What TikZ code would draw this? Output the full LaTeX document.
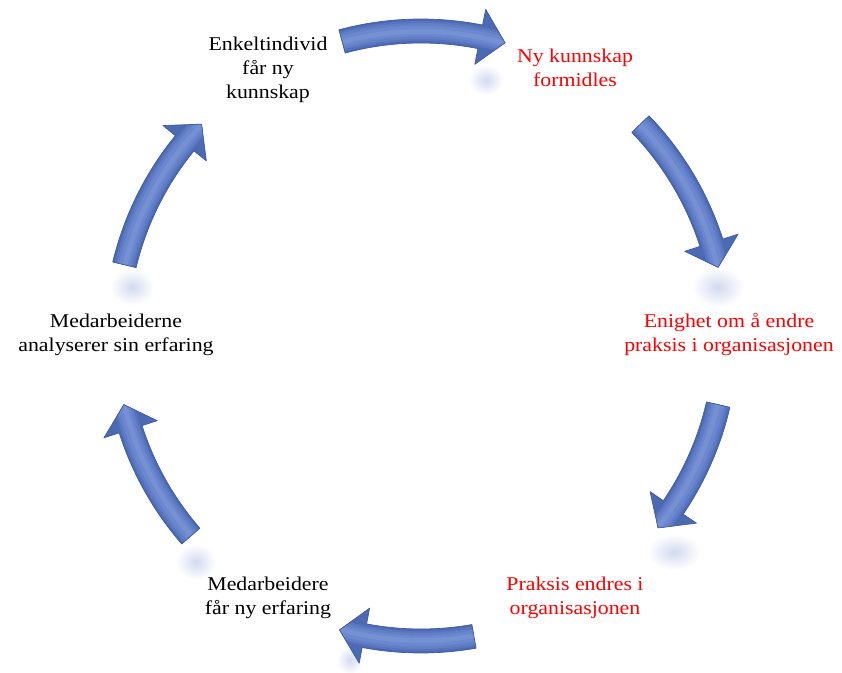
\documentclass[tikz,border=0pt]{standalone}
\usepackage{fontspec}
\setmainfont[FakeStretch=1.12]{Liberation Serif}
\definecolor{arrdark}{HTML}{3E5AA0}
\definecolor{arrA}{HTML}{4C6AB4}
\definecolor{arrB}{HTML}{5774BE}
\definecolor{arrC}{HTML}{617EC7}
\definecolor{arrD}{HTML}{6B87CD}
\definecolor{arrE}{HTML}{7590D3}
\definecolor{refl}{HTML}{D3DAF0}
\definecolor{txtred}{HTML}{FF0000}
\tikzset{
  lbl/.style={align=center, font=\fontsize{19.5}{24}\selectfont, inner sep=0pt},
  redlbl/.style={lbl, text=txtred},
  reflbox/.style={inner color=refl, outer color=white, draw=none}
}
% #1 = tail angle, #2 = tip angle (clockwise)
\newcommand\cyclearrow[2]{%
  \pgfmathsetmacro\hb{#2+4.8}%
  \begin{scope}
    \path[clip] (#1:317) arc[start angle=#1,end angle=\hb,radius=317] -- (\hb:333) -- (#2:305) -- (\hb:277) -- (\hb:293) arc[start angle=\hb,end angle=#1,radius=293] -- cycle;
    \fill[arrA] (-420,-340) rectangle (420,340);
    \draw[arrB,line width=20] (#1:305) arc[start angle=#1,end angle=#2,radius=305];
    \draw[arrC,line width=16] (#1:305) arc[start angle=#1,end angle=#2,radius=305];
    \draw[arrD,line width=11] (#1:305) arc[start angle=#1,end angle=#2,radius=305];
    \draw[arrE,line width=5] (#1:304.5) arc[start angle=#1,end angle=#2,radius=304.5];
  \end{scope}
  \draw[arrdark,line width=0.7,line join=round] (#1:317) arc[start angle=#1,end angle=\hb,radius=317] -- (\hb:333) -- (#2:305) -- (\hb:277) -- (\hb:293) arc[start angle=\hb,end angle=#1,radius=293] -- cycle;
}
\begin{document}
\begin{tikzpicture}[x=1pt,y=1pt]
\useasboundingbox (0,0) rectangle (842,672);
\fill[white] (0,0) rectangle (842,672);
% reflections
\shade[reflbox] (486,592) ellipse[x radius=17, y radius=15];
\shade[reflbox] (718,385) ellipse[x radius=26, y radius=20];
\shade[reflbox] (674,120) ellipse[x radius=27, y radius=18];
\shade[reflbox] (350,12) ellipse[x radius=13, y radius=14];
\shade[reflbox] (196,110) ellipse[x radius=20, y radius=18];
\shade[reflbox] (132,385) ellipse[x radius=22, y radius=18];
% arrows
\begin{scope}[shift={(421,336)}]
  \cyclearrow{105}{74}
  \cyclearrow{44}{13}
  \cyclearrow{-13}{-39}
  \cyclearrow{-80}{-105.5}
  \cyclearrow{-139}{-167}
  \cyclearrow{166.5}{136}
\end{scope}
% labels
\node[lbl] (t1) at (268,602) {Enkeltindivid\\får ny\\kunnskap};
\node[redlbl] (t2) at (575,604) {Ny kunnskap\\formidles};
\node[redlbl] (t3) at (729,337) {Enighet om å endre\\praksis i organisasjonen};
\node[redlbl] (t4) at (575,74) {Praksis endres i\\organisasjonen};
\node[lbl] (t5) at (268,74) {Medarbeidere\\får ny erfaring};
\node[lbl] (t6) at (116,337) {Medarbeiderne\\analyserer sin erfaring};
\end{tikzpicture}
\end{document}
